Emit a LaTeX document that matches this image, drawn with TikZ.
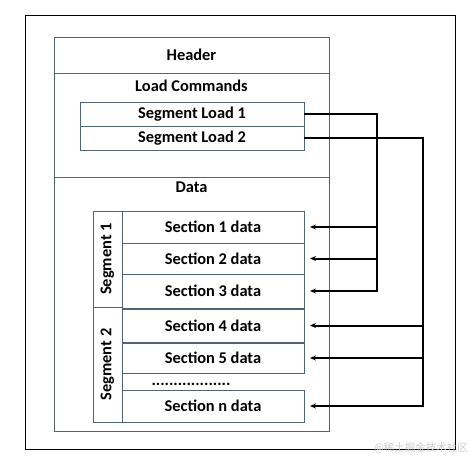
\documentclass[tikz,border=0pt]{standalone}
\usepackage{fontspec}
\setmainfont{Carlito}
\newfontfamily\cjk{Noto Sans CJK SC}
\usetikzlibrary{arrows.meta}
\definecolor{boxline}{HTML}{4E6577}
\tikzset{
  lbl/.style={font=\fontsize{16.4}{18}\selectfont\bfseries, inner sep=0pt},
  cell/.style={lbl, draw=boxline, line width=1pt, minimum width=#1, outer sep=0pt},
  wire/.style={line width=2pt, black},
  tip/.style={wire, -{Stealth[length=6pt,width=5pt]}, shorten >=6pt},
}
\begin{document}
\begin{tikzpicture}[x=1pt,y=-1pt]
\useasboundingbox (0,0) rectangle (469,456);
\node[draw=black, line width=1pt, minimum width=430pt, minimum height=434pt, inner sep=0pt] (frame) at (240,232) {};
\node[draw=boxline, line width=0.8pt, minimum width=275pt, minimum height=394pt, inner sep=0pt] (main) at (191.5,234) {};
\node[cell=275pt, minimum height=36pt, line width=0.8pt] (header) at (191.5,55) {Header};
\node[lbl] (lc) at (191.5,86) {Load Commands};
\node[cell=224pt, minimum height=24pt, line width=0.8pt] (sl1) at (192,114) {Segment Load 1};
\node[cell=224pt, minimum height=24pt, line width=0.8pt] (sl2) at (192,138) {Segment Load 2};
\coordinate (dl) at (54,177);
\coordinate (dr) at (329,177);
\draw[boxline, line width=0.8pt] (dl) -- (dr);
\node[lbl] (data) at (191.5,187) {Data};
\node[cell=29pt, minimum height=96pt] (seg1) at (107.5,259) {};
\node[lbl, rotate=90] (seg1t) at (seg1) {Segment 1};
\node[cell=29pt, minimum height=115pt] (seg2) at (107.5,364.5) {};
\node[lbl, rotate=90] (seg2t) at (seg2) {Segment 2};
\node[cell=182pt, minimum height=32pt] (sec1) at (213,227) {Section 1 data};
\node[cell=182pt, minimum height=31pt] (sec2) at (213,258.5) {Section 2 data};
\node[cell=182pt, minimum height=34pt] (sec3) at (213,291) {Section 3 data};
\node[cell=182pt, minimum height=33pt] (sec4) at (213,325.5) {Section 4 data};
\node[cell=182pt, minimum height=30pt] (sec5) at (213,358) {Section 5 data};
\node[lbl] (dots) at (191,384.5) {..................};
\node[cell=182pt, minimum height=32pt] (secn) at (213,406) {Section n data};
\coordinate (bus1) at (377,0);
\coordinate (bus2) at (423,0);
\draw[tip] (sl1.east) -| (bus1 |- sec3.east) -- (sec3.east);
\draw[tip] (bus1 |- sec1.east) -- (sec1.east);
\draw[tip] (bus1 |- sec2.east) -- (sec2.east);
\draw[tip] (sl2.east) -| (bus2 |- secn.east) -- (secn.east);
\draw[tip] (bus2 |- sec4.east) -- (sec4.east);
\draw[tip] (bus2 |- sec5.east) -- (sec5.east);
\node[font=\cjk\fontsize{10.5}{12}\selectfont, text=black!20, inner sep=0pt] (wm) at (421,448) {@稀土掘金技术社区};
\end{tikzpicture}
\end{document}
